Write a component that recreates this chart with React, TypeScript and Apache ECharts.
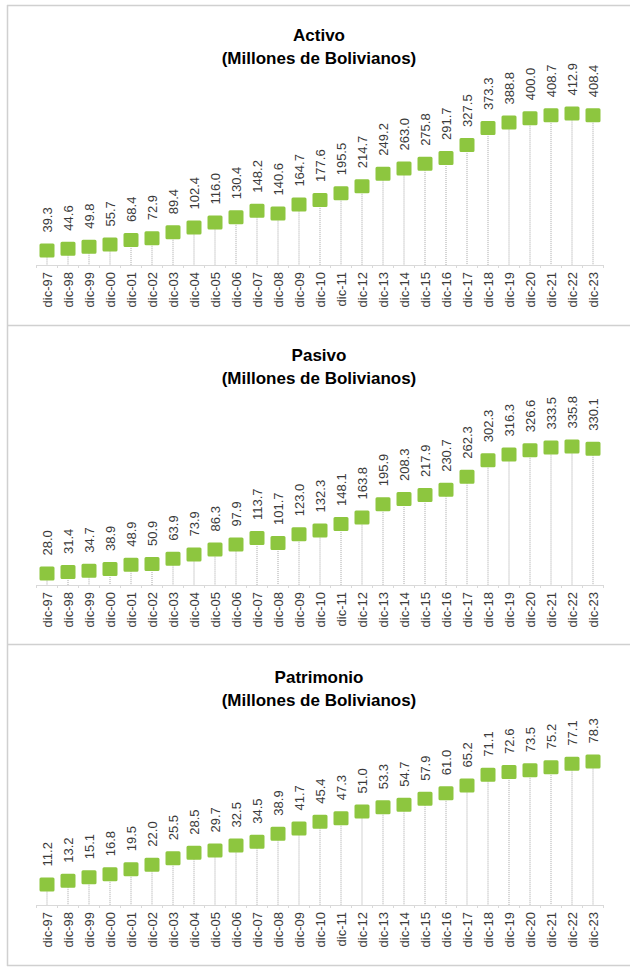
import React, { useEffect, useRef } from "react";
import * as echarts from "echarts";

const categories = [
  "dic-97", "dic-98", "dic-99", "dic-00", "dic-01", "dic-02", "dic-03", "dic-04", "dic-05",
  "dic-06", "dic-07", "dic-08", "dic-09", "dic-10", "dic-11", "dic-12", "dic-13", "dic-14",
  "dic-15", "dic-16", "dic-17", "dic-18", "dic-19", "dic-20", "dic-21", "dic-22", "dic-23",
];

const activo = [
  39.3, 44.6, 49.8, 55.7, 68.4, 72.9, 89.4, 102.4, 116.0, 130.4, 148.2, 140.6, 164.7, 177.6,
  195.5, 214.7, 249.2, 263.0, 275.8, 291.7, 327.5, 373.3, 388.8, 400.0, 408.7, 412.9, 408.4,
];

const pasivo = [
  28.0, 31.4, 34.7, 38.9, 48.9, 50.9, 63.9, 73.9, 86.3, 97.9, 113.7, 101.7, 123.0, 132.3,
  148.1, 163.8, 195.9, 208.3, 217.9, 230.7, 262.3, 302.3, 316.3, 326.6, 333.5, 335.8, 330.1,
];

const patrimonio = [
  11.2, 13.2, 15.1, 16.8, 19.5, 22.0, 25.5, 28.5, 29.7, 32.5, 34.5, 38.9, 41.7, 45.4,
  47.3, 51.0, 53.3, 54.7, 57.9, 61.0, 65.2, 71.1, 72.6, 73.5, 75.2, 77.1, 78.3,
];

const titles = ["Activo", "Pasivo", "Patrimonio"];
const subtitle = "(Millones de Bolivianos)";
const yMax = [450, 400, 90];

const panels = [
  { data: activo, gridTop: 100, titleY: 35 },
  { data: pasivo, gridTop: 420, titleY: 355 },
  { data: patrimonio, gridTop: 740, titleY: 677 },
];

const GREEN = "#8DC63F";
const TEXT = "#3a3a3a";
const FONT = "'Liberation Sans', Arial, sans-serif";
const SQUARE =
  "path://M1.5,0H13.5A1.5,1.5 0 0 1 15,1.5V12.5A1.5,1.5 0 0 1 13.5,14H1.5A1.5,1.5 0 0 1 0,12.5V1.5A1.5,1.5 0 0 1 1.5,0Z";

export default function App() {
  const ref = useRef<HTMLDivElement>(null);

  useEffect(() => {
    if (!ref.current) return;
    const chart = echarts.init(ref.current, null, { renderer: "svg" });

    const grids: any[] = [];
    const xAxes: any[] = [];
    const yAxes: any[] = [];
    const series: any[] = [];
    const graphics: any[] = [];

    panels.forEach((p, i) => {
      grids.push({ left: 36.5, width: 567, top: p.gridTop, height: 165 });
      xAxes.push({
        type: "category",
        gridIndex: i,
        data: categories,
        boundaryGap: true,
        axisLine: { lineStyle: { color: "#d9d9d9", width: 1 } },
        axisTick: { show: true, length: 3, lineStyle: { color: "#d9d9d9" } },
        axisLabel: {
          rotate: 90,
          interval: 0,
          margin: 7,
          color: TEXT,
          fontSize: 13,
          fontFamily: FONT,
        },
      });
      yAxes.push({
        type: "value",
        gridIndex: i,
        min: 0,
        max: yMax[i],
        show: false,
        splitLine: { show: false },
      });
      series.push({
        type: "custom",
        xAxisIndex: i,
        yAxisIndex: i,
        z: 1,
        silent: true,
        data: p.data.map((v, k) => [k, v]),
        renderItem: (params: any, api: any) => {
          const top = api.coord([api.value(0), api.value(1)]);
          const base = api.coord([api.value(0), 0]);
          return {
            type: "line",
            shape: { x1: top[0], y1: top[1], x2: base[0], y2: base[1] },
            style: { stroke: "#a6a6a6", lineWidth: 1, lineDash: [1, 1] },
          };
        },
      });
      series.push({
        type: "scatter",
        xAxisIndex: i,
        yAxisIndex: i,
        z: 3,
        symbol: SQUARE,
        symbolSize: [15, 14],
        symbolKeepAspect: false,
        itemStyle: { color: GREEN, opacity: 1 },
        data: p.data,
        label: {
          show: true,
          position: "top",
          distance: 11,
          rotate: 90,
          align: "left",
          verticalAlign: "middle",
          color: TEXT,
          fontSize: 13,
          fontFamily: FONT,
          formatter: (d: any) => Number(d.value).toFixed(1),
        },
      });
      graphics.push({
        type: "text",
        x: 319,
        y: p.titleY,
        style: {
          text: titles[i],
          font: `bold 17px ${FONT}`,
          fill: "#000000",
          textAlign: "center",
          textVerticalAlign: "middle",
        },
      });
      graphics.push({
        type: "text",
        x: 319,
        y: p.titleY + 23,
        style: {
          text: subtitle,
          font: `bold 17px ${FONT}`,
          fill: "#000000",
          textAlign: "center",
          textVerticalAlign: "middle",
        },
      });
    });

    const border = { stroke: "#d0d0d0", lineWidth: 1.5 };
    [5.5, 325.5, 644.5, 965.5].forEach((y) => {
      graphics.push({ type: "line", shape: { x1: 7, y1: y, x2: 630, y2: y }, style: border, silent: true });
    });
    graphics.push({ type: "line", shape: { x1: 7.5, y1: 5, x2: 7.5, y2: 966 }, style: border, silent: true });

    chart.setOption({
      animation: false,
      backgroundColor: "#ffffff",
      grid: grids,
      xAxis: xAxes,
      yAxis: yAxes,
      series,
      graphic: graphics,
    });

    return () => chart.dispose();
  }, []);

  return (
    <div
      ref={ref}
      style={{ position: "absolute", left: 0, top: 0, width: 630, height: 967, background: "#fff" }}
    />
  );
}
